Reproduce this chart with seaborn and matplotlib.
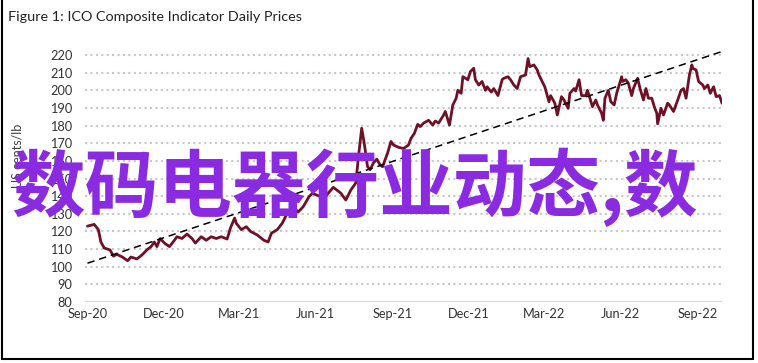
import matplotlib
matplotlib.use("Agg")
import matplotlib.pyplot as plt
import matplotlib.dates as mdates
from matplotlib.lines import Line2D
import seaborn as sns
import pandas as pd

# ---- data ----
dates = [
    "2020-09-01", "2020-09-09", "2020-09-14", "2020-09-17", "2020-09-21", "2020-09-28",
    "2020-10-02", "2020-10-06", "2020-10-12", "2020-10-19", "2020-10-23", "2020-10-30",
    "2020-11-05", "2020-11-11", "2020-11-16", "2020-11-20", "2020-11-23", "2020-11-27",
    "2020-12-02", "2020-12-08", "2020-12-14", "2020-12-17", "2020-12-23", "2020-12-29",
    "2021-01-04", "2021-01-08", "2021-01-15", "2021-01-21", "2021-01-27", "2021-02-02",
    "2021-02-08", "2021-02-15", "2021-02-19", "2021-02-24", "2021-02-26", "2021-03-04",
    "2021-03-10", "2021-03-15", "2021-03-23", "2021-03-31", "2021-04-05", "2021-04-09",
    "2021-04-16", "2021-04-22", "2021-04-28", "2021-05-05", "2021-05-11", "2021-05-17",
    "2021-05-24", "2021-05-28", "2021-06-07", "2021-06-10", "2021-06-16", "2021-06-22",
    "2021-07-01", "2021-07-07", "2021-07-13", "2021-07-19", "2021-07-22", "2021-07-26",
    "2021-07-29", "2021-08-02", "2021-08-05", "2021-08-09", "2021-08-13", "2021-08-17",
    "2021-08-20", "2021-08-26", "2021-08-30", "2021-09-02", "2021-09-08", "2021-09-14",
    "2021-09-20", "2021-09-23", "2021-09-27", "2021-10-01", "2021-10-04", "2021-10-08",
    "2021-10-14", "2021-10-19", "2021-10-22", "2021-10-26", "2021-11-01", "2021-11-03",
    "2021-11-08", "2021-11-12", "2021-11-16", "2021-11-18", "2021-11-22", "2021-11-24",
    "2021-11-30", "2021-12-03", "2021-12-07", "2021-12-09", "2021-12-13", "2021-12-17",
    "2021-12-21", "2021-12-23", "2021-12-28", "2021-12-31", "2022-01-05", "2022-01-10",
    "2022-01-12", "2022-01-17", "2022-01-20", "2022-01-24", "2022-01-28", "2022-02-01",
    "2022-02-07", "2022-02-10", "2022-02-12", "2022-02-17", "2022-02-21", "2022-02-23",
    "2022-02-28", "2022-03-02", "2022-03-07", "2022-03-09", "2022-03-14", "2022-03-17",
    "2022-03-22", "2022-03-25", "2022-03-30", "2022-04-01", "2022-04-06", "2022-04-08",
    "2022-04-12", "2022-04-15", "2022-04-20", "2022-04-22", "2022-04-25", "2022-04-28",
    "2022-05-02", "2022-05-04", "2022-05-09", "2022-05-11", "2022-05-13", "2022-05-17",
    "2022-05-20", "2022-05-24", "2022-05-27", "2022-06-02", "2022-06-03", "2022-06-07",
    "2022-06-10", "2022-06-14", "2022-06-16", "2022-06-21", "2022-06-24", "2022-06-28",
    "2022-07-01", "2022-07-04", "2022-07-08", "2022-07-11", "2022-07-14", "2022-07-15",
    "2022-07-19", "2022-07-22", "2022-07-27", "2022-07-29", "2022-08-03", "2022-08-08",
    "2022-08-12", "2022-08-15", "2022-08-18", "2022-08-22", "2022-08-25", "2022-08-26",
    "2022-08-30", "2022-09-02", "2022-09-07", "2022-09-09", "2022-09-13", "2022-09-16",
    "2022-09-20", "2022-09-23", "2022-09-27", "2022-09-30",
]
prices = [
    123.0, 124.0, 121.0, 114.0, 110.6, 109.5,
    106.0, 107.0, 105.7, 103.4, 105.5, 104.4,
    106.6, 109.5, 111.4, 114.0, 111.4, 116.0,
    113.4, 111.4, 115.0, 117.0, 116.0, 118.5,
    116.0, 113.4, 117.0, 115.0, 117.0, 116.0,
    117.0, 115.7, 122.0, 127.6, 124.6, 121.0,
    122.7, 120.0, 118.0, 115.0, 114.0, 119.0,
    121.0, 124.7, 130.4, 134.0, 131.0, 134.0,
    139.7, 141.6, 139.7, 137.8, 141.7, 145.0,
    141.7, 137.8, 143.5, 147.5, 162.0, 178.5,
    170.0, 156.7, 155.0, 158.8, 161.0, 157.7,
    156.7, 164.5, 171.0, 169.0, 167.7, 167.0,
    169.0, 172.8, 175.6, 180.7, 179.4, 181.4,
    183.0, 180.3, 182.6, 181.4, 186.0, 188.0,
    180.3, 191.7, 195.5, 200.0, 198.3, 207.7,
    206.0, 210.6, 212.5, 206.0, 203.0, 205.0,
    200.0, 202.0, 199.0, 201.0, 197.0, 206.0,
    206.8, 207.7, 206.0, 203.0, 201.0, 207.7,
    208.7, 218.0, 213.4, 214.4, 211.5, 208.7,
    204.0, 202.0, 193.5, 197.0, 192.7, 186.0,
    196.4, 194.5, 189.8, 198.3, 201.0, 199.6,
    206.0, 197.0, 197.0, 200.0, 195.5, 190.7,
    194.5, 191.7, 187.0, 183.0, 195.5, 200.0,
    193.5, 191.7, 198.3, 207.7, 205.0, 206.0,
    204.0, 197.0, 201.0, 206.8, 201.0, 194.5,
    201.0, 195.5, 195.5, 190.7, 187.0, 181.0,
    189.8, 186.0, 192.7, 191.7, 188.0, 194.5,
    200.0, 201.0, 195.5, 208.7, 214.4, 212.5,
    211.5, 205.0, 203.0, 201.0, 203.0, 198.3,
    202.0, 196.4, 197.0, 192.7,
]
trend_dates = ["2020-09-01", "2022-09-30"]
trend_values = [102.0, 222.0]
y_ticks = [80, 90, 100, 110, 120, 130, 140, 150, 160, 170, 180, 190, 200, 210, 220]

title = "Figure 1: ICO Composite Indicator Daily Prices"
y_label = "US cents/lb"
overlay = "数码电器行业动态,数"

df = pd.DataFrame({"date": pd.to_datetime(dates), "price": prices})
tdf = pd.DataFrame({"date": pd.to_datetime(trend_dates), "price": trend_values})

# ---- style ----
sns.set_theme(style="white")
plt.rcParams["font.family"] = ["Lato", "DejaVu Sans"]

W, H = 758, 363
fig = plt.figure(figsize=(W / 100, H / 100), dpi=100)
ax = fig.add_axes([85 / W, 61 / H, (722 - 85) / W, (316.8 - 61) / H])

sns.lineplot(data=df, x="date", y="price", ax=ax, color="#701026", linewidth=2.0, zorder=3)
sns.lineplot(data=tdf, x="date", y="price", ax=ax, color="black", linewidth=1.1,
             linestyle=(0, (4.8, 3.2)), zorder=4)

ax.set_ylim(80, 225)
ax.set_xlim(pd.Timestamp("2020-08-29"), pd.Timestamp("2022-09-30"))
ax.set_yticks(y_ticks)
ax.xaxis.set_major_locator(mdates.MonthLocator(bymonth=[3, 6, 9, 12]))
ax.xaxis.set_major_formatter(mdates.DateFormatter("%b-%y"))

for v in y_ticks[1:]:
    ax.axhline(v, color="#C8C8C8", linewidth=1.5, linestyle=(0, (1, 1.6)), zorder=1)
ax.axhline(80, color="#D9D9D9", linewidth=1.6, zorder=1)

for s in ax.spines.values():
    s.set_visible(False)
ax.tick_params(axis="both", length=0, labelsize=9.2, colors="#333333")
ax.tick_params(axis="y", pad=9)
ax.tick_params(axis="x", pad=4)
ax.set_xlabel("")
ax.set_ylabel("")

fig.text(17 / W, 1 - 156 / H, y_label, rotation=90, ha="center", va="center",
         fontsize=9, color="#404040")
fig.text(8 / W, 1 - 17 / H, title, ha="left", va="center", fontsize=10.4, color="#222222")

fig.text(11 / W, 1 - 187 / H, overlay, ha="left", va="center", fontsize=53,
         fontweight="bold", color="#8A2BE2",
         family=["Noto Sans CJK SC", "DejaVu Sans"], zorder=10)

# outer frame
for (x0, y0, x1, y1) in [(2, 0, 2, 359), (753, 0, 753, 359), (2, 359, 753, 359)]:
    fig.add_artist(Line2D([x0 / W, x1 / W], [1 - y0 / H, 1 - y1 / H],
                          color="black", linewidth=1.5, transform=fig.transFigure))

fig.savefig("out.png", dpi=100)
